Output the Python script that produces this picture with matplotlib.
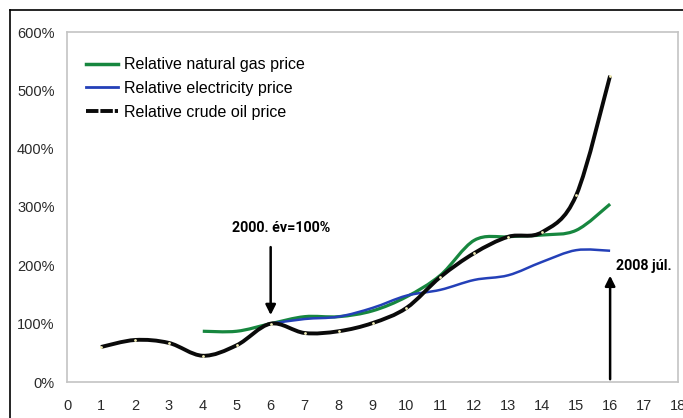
import numpy as np
import matplotlib
matplotlib.use("Agg")
import matplotlib.pyplot as plt
from matplotlib.path import Path
from matplotlib.patches import PathPatch
from matplotlib.lines import Line2D

plt.rcParams["font.family"] = ["Liberation Sans", "DejaVu Sans"]

# relative prices, 2000 = 1.0
oil_x = [1, 2, 3, 4, 5, 6, 7, 8, 9, 10, 11, 12, 13, 14, 15, 16]
oil_y = [0.60, 0.72, 0.67, 0.45, 0.63, 1.00, 0.84, 0.87, 1.01, 1.27, 1.80, 2.21, 2.49, 2.57, 3.20, 5.25]

gas_x = [4, 5, 6, 7, 8, 9, 10, 11, 12, 13, 14, 15, 16]
gas_y = [0.87, 0.87, 1.00, 1.12, 1.12, 1.22, 1.46, 1.83, 2.43, 2.49, 2.52, 2.60, 3.05]

elec_x = [6, 7, 8, 9, 10, 11, 12, 13, 14, 15, 16]
elec_y = [1.00, 1.08, 1.12, 1.27, 1.48, 1.58, 1.75, 1.83, 2.06, 2.26, 2.25]

x_ticks = list(range(0, 19))
y_ticks = [0, 1, 2, 3, 4, 5, 6]
y_labels = ["0%", "100%", "200%", "300%", "400%", "500%", "600%"]

GREEN = "#17873f"
BLUE = "#2440b8"
BLACK = "#0a0a0a"


def smooth_path(xs, ys, tension=6.0):
    # Catmull-Rom through the points, written as cubic Bezier segments
    pts = np.column_stack([xs, ys]).astype(float)
    verts = [pts[0]]
    codes = [Path.MOVETO]
    n = len(pts)
    for i in range(n - 1):
        p0 = pts[i - 1] if i > 0 else pts[i]
        p1 = pts[i]
        p2 = pts[i + 1]
        p3 = pts[i + 2] if i + 2 < n else pts[i + 1]
        c1 = p1 + (p2 - p0) / tension
        c2 = p2 - (p3 - p1) / tension
        verts += [c1, c2, p2]
        codes += [Path.CURVE4] * 3
    return Path(verts, codes)


fig = plt.figure(figsize=(6.83, 4.18), dpi=100)
ax = fig.add_axes([67 / 683, 1 - 382 / 418, (678 - 67) / 683, (382 - 32) / 418])

ax.add_patch(PathPatch(smooth_path(oil_x, oil_y), fill=False, ec=BLACK, lw=2.8,
                       capstyle="butt", zorder=3))
ax.plot(oil_x, oil_y, ls="none", marker="o", ms=2.0, mfc="#f3eeb8", mec="none", zorder=4)
ax.add_patch(PathPatch(smooth_path(gas_x, gas_y), fill=False, ec=GREEN, lw=2.3, zorder=2))
ax.add_patch(PathPatch(smooth_path(elec_x, elec_y), fill=False, ec=BLUE, lw=1.8, zorder=2))

ax.set_xlim(0, 18)
ax.set_ylim(0, 6)
ax.set_xticks(x_ticks)
ax.set_yticks(y_ticks)
ax.set_yticklabels(y_labels)
ax.tick_params(length=0, labelsize=10.5, colors="#2a2a2a")
ax.tick_params(axis="x", pad=12)
ax.tick_params(axis="y", pad=9)
for s in ax.spines.values():
    s.set_color("#c4c4c4")
    s.set_linewidth(1.2)

handles = [
    Line2D([], [], color=GREEN, lw=2.5),
    Line2D([], [], color=BLUE, lw=2.0),
    Line2D([], [], color=BLACK, lw=2.8, dashes=(3.2, 0.5)),
]
labels = ["Relative natural gas price", "Relative electricity price", "Relative crude oil price"]
ax.legend(handles, labels, loc="upper left", bbox_to_anchor=(0.008, 0.969), frameon=False,
          fontsize=11.5, handlelength=2.0, handletextpad=0.35, labelspacing=0.55)

# annotations
bold_cond = dict(family=["Roboto", "DejaVu Sans"], fontweight="bold", fontsize=10.3)
ax.annotate("", xy=(6, 1.10), xytext=(6, 2.36),
            arrowprops=dict(arrowstyle="-|>", color="black", lw=1.8, mutation_scale=15))
ax.text(6.3, 2.64, "2000. év=100%", ha="center", va="center", **bold_cond)
ax.annotate("", xy=(16, 1.87), xytext=(16, 0.0),
            arrowprops=dict(arrowstyle="-|>", color="black", lw=1.8, mutation_scale=15))
ax.text(16.18, 1.99, "2008 júl.", ha="left", va="center", **bold_cond)

# outer frame
fig.add_artist(Line2D([10 / 683, 10 / 683], [0, 1 - 10 / 418], color="black", lw=1.2))
fig.add_artist(Line2D([10 / 683, 1], [1 - 10 / 418, 1 - 10 / 418], color="black", lw=1.2))

fig.savefig("out.png", dpi=100)
